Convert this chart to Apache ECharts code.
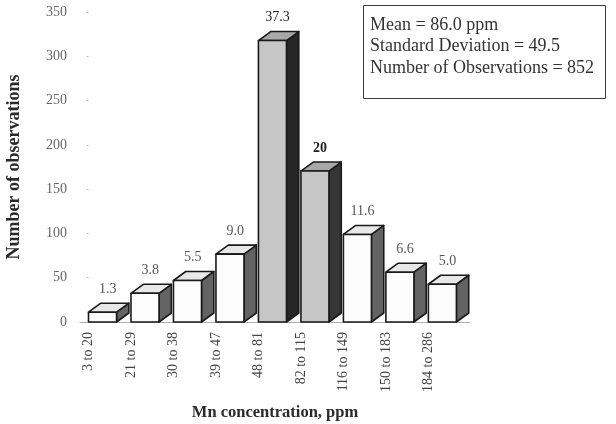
<!DOCTYPE html>
<html>
<head>
<meta charset="utf-8">
<script src="https://cdn.jsdelivr.net/npm/echarts@6/dist/echarts.min.js"></script>
<style>
  html, body { margin: 0; padding: 0; background: #fff; }
  #chart { width: 616px; height: 424px; }
</style>
</head>
<body>
<div id="chart"></div>
<script>
// Mn concentration classes and the share of observations in each (percent)
const categories = ['3 to 20', '21 to 29', '30 to 38', '39 to 47', '48 to 81',
                    '82 to 115', '116 to 149', '150 to 183', '184 to 286'];
const percentLabels = ['1.3', '3.8', '5.5', '9.0', '37.3', '20', '11.6', '6.6', '5.0'];
const totalObservations = 852;
const yTicks = [0, 50, 100, 150, 200, 250, 300, 350];
const statLines = ['Mean = 86.0 ppm', 'Standard Deviation = 49.5', 'Number of Observations = 852'];

// bar heights are counts: percent share of all observations
const counts = percentLabels.map(p => parseFloat(p) * totalObservations / 100);

// emphasised classes get a shaded front face and darker side
const shaded = [false, false, false, false, true, true, false, false, false];

const serif = '"Liberation Serif", "DejaVu Serif", serif';

const chart = echarts.init(document.getElementById('chart'));

function renderBox(params, api) {
  const i = api.value(0);
  const v = api.value(1);
  const top = api.coord([i, v]);
  const base = api.coord([i, 0]);
  const unit = api.size([1, 0])[0];
  const fw = unit * 0.66;
  const dx = unit * 0.29;
  const dy = 9;
  const x = top[0], y = top[1], b = base[1];
  const dark = shaded[i];
  const strong = i === 4 || i === 5;
  const outline = { stroke: '#1a1a1a', lineWidth: 1.6, lineJoin: 'round' };
  return {
    type: 'group',
    children: [
      {
        type: 'polygon',
        shape: { points: [[x + fw, y], [x + fw + dx, y - dy], [x + fw + dx, b - dy], [x + fw, b]] },
        style: Object.assign({ fill: dark ? (i === 4 ? '#262626' : '#363636') : '#636363' }, outline)
      },
      {
        type: 'polygon',
        shape: { points: [[x, y], [x + dx, y - dy], [x + fw + dx, y - dy], [x + fw, y]] },
        style: Object.assign({ fill: dark ? '#a8a8a8' : '#e8e8e8' }, outline)
      },
      {
        type: 'rect',
        shape: { x: x, y: y, width: fw, height: b - y },
        style: Object.assign({ fill: dark ? '#c6c6c6' : '#fcfcfc' }, outline)
      },
      {
        type: 'text',
        x: x + fw / 2 + dx / 2 - 1,
        y: y - dy - 7,
        style: {
          text: percentLabels[i],
          fill: strong ? '#1e1e1e' : '#555',
          font: (i === 5 ? 'bold ' : '') + '14px ' + serif,
          align: 'center',
          verticalAlign: 'bottom'
        }
      }
    ]
  };
}

chart.setOption({
  animation: false,
  backgroundColor: '#ffffff',
  grid: { left: 80, right: 146, top: 12, bottom: 102, containLabel: false, outerBoundsMode: 'none' },
  xAxis: {
    type: 'value',
    min: -0.2,
    max: 8.98,
    splitLine: { show: false },
    axisTick: { show: false },
    axisLine: { show: true, lineStyle: { color: '#b0b0b0', width: 1 } },
    axisLabel: {
      customValues: categories.map((c, i) => i),
      formatter: v => categories[Math.round(v)],
      rotate: 90,
      margin: 10,
      color: '#444',
      fontFamily: serif,
      fontSize: 14
    },
    name: 'Mn concentration, ppm',
    nameLocation: 'middle',
    nameGap: 82,
    nameTextStyle: { color: '#2a2a2a', fontFamily: serif, fontSize: 16.5, fontWeight: 'bold' }
  },
  yAxis: {
    type: 'value',
    min: yTicks[0],
    max: yTicks[yTicks.length - 1],
    interval: 50,
    splitLine: { show: false },
    axisLine: { show: false },
    axisTick: { show: true, length: 2, lineStyle: { color: '#bbb' } },
    axisLabel: { color: '#666', fontFamily: serif, fontSize: 14, margin: 13 },
    name: 'Number of observations',
    nameLocation: 'middle',
    nameGap: 57,
    nameTextStyle: { color: '#2a2a2a', fontFamily: serif, fontSize: 18, fontWeight: 'bold' }
  },
  series: [{
    type: 'custom',
    renderItem: renderBox,
    encode: { x: 0, y: 1 },
    data: counts.map((c, i) => [i, c]),
    clip: false
  }],
  graphic: [
    {
      type: 'rect',
      left: 363, top: 5,
      shape: { width: 242, height: 93 },
      style: { fill: '#fff', stroke: '#3a3a3a', lineWidth: 1 }
    },
    {
      type: 'group',
      left: 370, top: 16,
      children: statLines.map((t, k) => ({
        type: 'text',
        x: 0, y: k * 21.5,
        style: { text: t, fill: '#333', font: '18px ' + serif, verticalAlign: 'middle' }
      }))
    }
  ]
});
</script>
</body>
</html>
